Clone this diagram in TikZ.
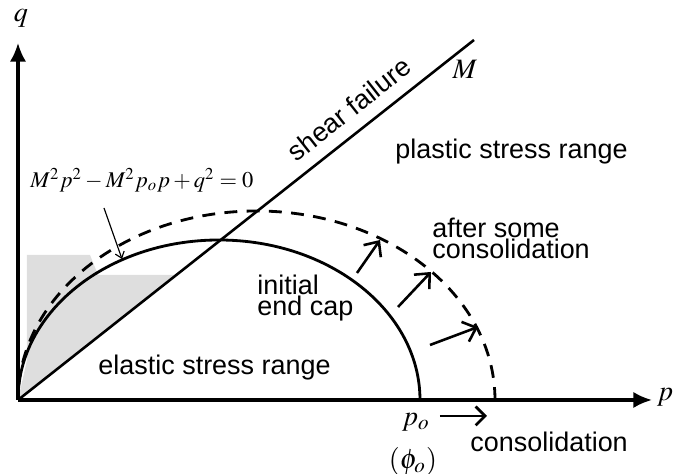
\documentclass[tikz,border=0pt]{standalone}
\usepackage{mathptmx}
\usepackage{fontspec}
\setmainfont{Liberation Serif}
\setsansfont{Liberation Sans}
\usetikzlibrary{arrows.meta,positioning,calc}

\begin{document}
\begin{tikzpicture}[
    x=0.015cm, y=0.015cm,
    node font=\sffamily\fontsize{11.5}{9}\selectfont,
    axis/.style={line width=1.3pt, -{Latex[length=8pt,width=7pt]}},
    cap line/.style={line width=1.2pt},
    shift arrow/.style={line width=1.1pt, -{Straight Barb[length=5pt,width=9pt]}},
    math label/.style={font=\fontsize{12}{14}\selectfont},
    region/.style={anchor=west, inner sep=0pt, align=left},
]
\useasboundingbox (-18,-74) rectangle (657,400);

% Shaded zone near the origin
\fill[black!13] (0,0) -- (9,40) -- (9,145) -- (72,145) -- (80,125) -- (159,125) -- cycle;

% Axes
\coordinate (O) at (0,0);
\coordinate (qtip) at (0,357);
\coordinate (ptip) at (634,0);
\draw[axis] (O) -- (qtip);
\draw[axis] (O) -- (ptip);
\node[math label, inner sep=0pt] (qlab) at (3,382) {$q$};
\node[math label] (plab) at (647,3) {$p$};

% Shear failure line
\coordinate (Mend) at (456,360);
\draw[line width=1.1pt] (O) -- (Mend);
\node[math label] (Mlab) at (447,331) {$M$};
\node[rotate=38.3] (shear) at (331,291) {shear failure};

% End caps
\draw[cap line] (402,0) arc[start angle=0, end angle=180, x radius=201, y radius=160];
\draw[cap line, dash pattern=on 5.5pt off 4pt] (477,0) arc[start angle=0, end angle=180, x radius=238.5, y radius=189];

% Cap growth
\draw[shift arrow] (339,127) -- (362,160);
\draw[shift arrow] (380,93) -- (413,128);
\draw[shift arrow] (412,55) -- (460,73);

% Yield function
\node[anchor=west, inner sep=0pt, font=\fontsize{9.6}{12}\selectfont] (eq) at (12,220) {$M^2p^2-M^2p_op+q^2=0$};
\coordinate (eqfoot) at (86,192);
\coordinate (captouch) at (104,141);
\draw[line width=0.5pt, -{Straight Barb[length=2.5pt,width=4pt]}] (eqfoot) -- (captouch);

% Region labels
\node[region] (plastic) at (377,248) {plastic stress range};
\node[region] (elastic) at (80,32) {elastic stress range};
\node[region] (initial) at (239,102) {initial\\end cap};
\node[region] (after) at (414,162) {after some\\consolidation};

% Below the p axis
\node[math label] (po) at (398,-22) {$p_o$};
\node[math label] (phio) at (395,-61) {$(\phi_o)$};
\coordinate (cstart) at (422,-16);
\coordinate (cend) at (469,-16);
\draw[line width=0.5pt, -{Straight Barb[length=4pt,width=8pt,line width=1.2pt]}] (cstart) -- (cend);
\node[region] (consol) at (452,-42) {consolidation};

\end{tikzpicture}
\end{document}
